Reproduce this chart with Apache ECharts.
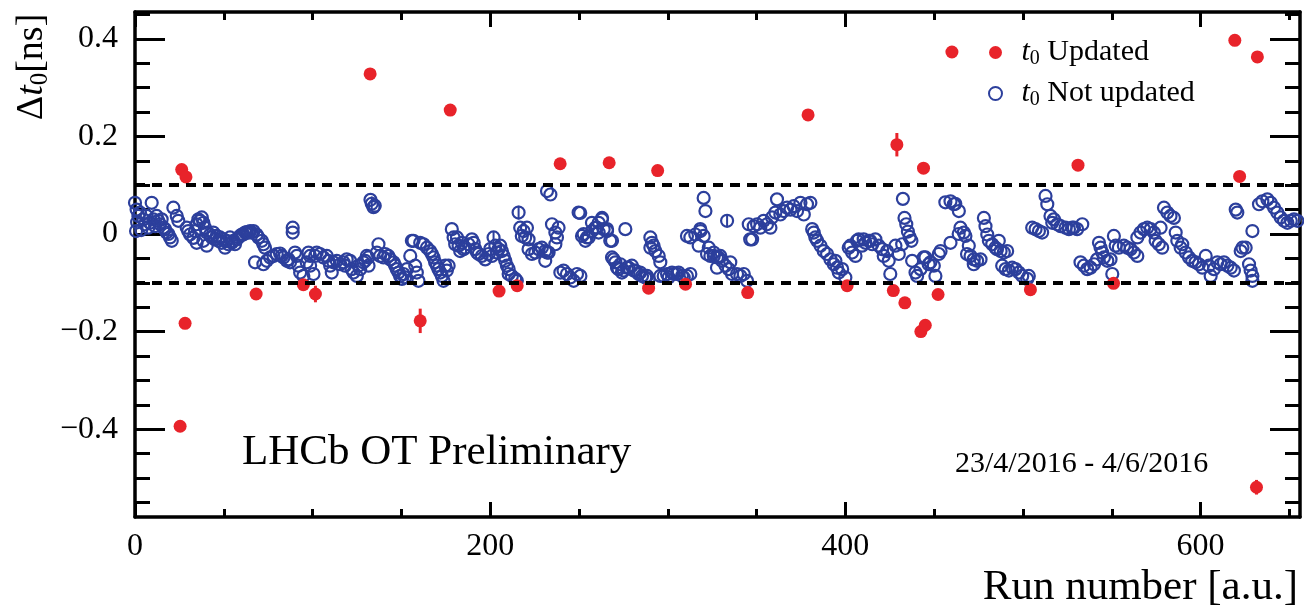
<!DOCTYPE html>
<html><head><meta charset="utf-8">
<script src="https://cdn.jsdelivr.net/npm/echarts@6/dist/echarts.min.js"></script>
<style>html,body{margin:0;padding:0;background:#fff}#c{width:1304px;height:609px}</style>
</head><body><div id="c"></div>
<script>
// ---------- data ----------
const yTicksMajor = [-0.4, -0.2, 0, 0.2, 0.4];
const yTicksMinor = [-0.55, -0.5, -0.45, -0.35, -0.3, -0.25, -0.15, -0.1, -0.05, 0.05, 0.1, 0.15, 0.25, 0.3, 0.35, 0.45];
const xTicksMajor = [0, 200, 400, 600];
const xTicksMinor = [50, 100, 150, 250, 300, 350, 450, 500, 550, 650];
const limitLines = [0.1, -0.1];

// [run, delta t0]
const updated = [
  [25.4,-0.394],[26.3,0.132],[28.2,-0.183],[28.7,0.117],[68.2,-0.123],[94.8,-0.104],[101.6,-0.123],
  [132.4,0.328],[160.6,-0.178],[177.5,0.254],[205,-0.117],[215.2,-0.106],[239.4,0.144],[267,0.146],
  [289.2,-0.111],[294.3,0.13],[310,-0.103],[345,-0.12],[379,0.244],[401,-0.106],[427,-0.116],
  [429,0.183],[433.5,-0.141],[442.5,-0.2],[444,0.135],[445,-0.187],[452.2,-0.124],[460,0.373],
  [504.2,-0.114],[531,0.141],[551,-0.101],[619.3,0.397],[622,0.118],[631.5,-0.519],[632,0.363]
];
// [run, delta t0, error]
const updatedErr = [[101.6,-0.123,0.017],[160.6,-0.178,0.025],[429,0.183,0.024],[631.5,-0.519,0.015]];

const notUpdated = [
  [0,0.064],[0.6,0.006],[0.9,0.05],[1.2,0.024],[1.9,0.037],[2.8,0.044],[3.5,0.008],[4.7,0.03],[5.6,0.02],[6.6,0.037],
  [7.5,0.013],[8.4,0.023],[9.4,0.064],[10.3,0.03],[11.3,0.016],[12.2,0.037],[13.1,0.027],[14.1,0.02],[15,0.03],
  [16,0.013],[16.9,0.01],[17.8,0.003],[18.8,0],[19.7,-0.007],[20.7,-0.014],[21.6,0.054],[23.5,0.037],[24.4,0.027],
  [29.1,0.013],[30,0.006],[31,-0.001],[32.9,-0.008],[33.8,0.006],[34.7,0.02],[34.7,-0.018],[35.7,0.03],[36.6,0.027],
  [37.6,0.034],[38.5,0.023],[38.5,-0.014],[39.4,0.013],[40.4,0.003],[40.4,-0.024],
  [42.3,-0.001],[43.2,-0.007],[44.1,0.003],[45.1,-0.011],[46,-0.004],[47,-0.014],[47.9,-0.007],[48.8,-0.018],
  [49.8,-0.011],[50.7,-0.028],[51.6,-0.014],[52.6,-0.021],[53.5,-0.007],[54.5,-0.018],[55.4,-0.014],[56.3,-0.021],
  [57.3,-0.011],[58.2,-0.007],[59.2,-0.004],[60.1,-0.001],[61,-0.001],[62,0.003],[62.9,0.004],[63.9,0.003],
  [64.8,0.006],[65.7,0.003],[66.7,0.006],
  [67.6,-0.058],[68.5,-0.001],[69.5,-0.007],[71.4,-0.014],[72.3,-0.021],[72.3,-0.062],[73.2,-0.028],[74.2,-0.055],
  [76.1,-0.048],[78,-0.045],[79.8,-0.041],[81.7,-0.04],[82.6,-0.045],[83.6,-0.048],[85.5,-0.055],[86.4,-0.052],
  [87.3,-0.058],[88.8,0.013],[88.8,0.003],
  [90.1,-0.038],[91.1,-0.045],[92,-0.065],[93,-0.079],[94.8,-0.086],[96.7,-0.058],[97.7,-0.038],[98.6,-0.045],
  [98.6,-0.065],[100.5,-0.082],[101.4,-0.045],[102.3,-0.038],
  [104.2,-0.041],[106.1,-0.048],[108,-0.045],[108.9,-0.055],[109.9,-0.065],[110.8,-0.079],[111.7,-0.058],
  [113.6,-0.055],[115.5,-0.062],[117.4,-0.058],[118.3,-0.065],[119.2,-0.052],[121.1,-0.055],[122,-0.072],
  [123,-0.079],[124.9,-0.086],[125.8,-0.065],[126.8,-0.072],[128.6,-0.058],[129.6,-0.055],[130.5,-0.045],
  [131.4,-0.048],[131.5,-0.065],
  [132.6,0.07],[133.3,0.062],[134.3,0.055],[135,0.058],
  [136.2,-0.038],[137.1,-0.021],[138,-0.045],[139.9,-0.048],[140.9,-0.041],[142.7,-0.045],[143.7,-0.052],
  [145.6,-0.058],[146.5,-0.065],[147.4,-0.072],[148.4,-0.079],[149.3,-0.086],[150.3,-0.092],[151.2,-0.082],
  [152.1,-0.089],[153.1,-0.072],[155,-0.045],[155.9,-0.014],[156.8,-0.014],[157.8,-0.065],[158.7,-0.079],[159.6,-0.096],
  [160.6,-0.018],[162.5,-0.021],[164.4,-0.028],[166.2,-0.035],[167.2,-0.041],[168.1,-0.048],[169,-0.058],
  [170,-0.065],[170.9,-0.072],[171.9,-0.079],[172.8,-0.086],[173.7,-0.096],[174.7,-0.065],[175.6,-0.075],[176.6,-0.065],
  [178.4,0.01],[179.4,-0.007],[180.3,-0.021],[181.3,-0.007],[182.2,-0.024],[183.1,-0.035],[184.1,-0.018],
  [185,-0.031],[186,-0.028],[187.8,-0.021],[189.7,-0.011],[190.7,-0.018],[191.6,-0.031],[192.6,-0.038],[193.5,-0.041],
  [195.3,-0.045],[197.2,-0.052],[199.1,-0.041],[200,-0.031],[201,-0.045],[201.9,-0.007],[202.9,-0.024],
  [203.8,-0.038],[204.7,-0.031],[205.7,-0.024],[206.6,-0.035],[207.6,-0.045],[208.5,-0.055],[209.4,-0.065],
  [210.4,-0.072],[210.4,-0.082],[212.2,-0.086],[214.1,-0.092],[215,-0.096],
  [216,0.044],[216.9,0.013],[217.8,-0.004],[218.8,0.006],[219.7,-0.007],[220.7,0.013],[221.6,-0.011],
  [221.6,-0.031],[223.5,-0.041],
  [225.4,-0.038],[227.3,-0.031],[229.1,-0.028],[231,-0.035],[231,-0.055],[232,-0.038],[232,0.088],[232.9,-0.038],
  [233.9,0.081],[234.8,0.02],[236.7,0.003],[236.7,-0.021],[237.6,-0.007],[238.5,0.013],
  [239.5,-0.079],[241.3,-0.075],[243.2,-0.082],[245.1,-0.089],[247,-0.096],[248.9,-0.082],[249.8,0.044],
  [250.7,0.043],[250.8,-0.086],
  [251.7,-0.004],[252.6,0],[253.6,-0.014],[254.5,-0.007],[255.5,-0.007],[257.3,0.006],[257.3,0.023],[259.2,0.013],
  [260.1,0.013],[261.1,0.023],[261.1,0.003],[262.9,0.03],[263,0.033],[263.9,0.01],[265.8,0.006],[265.8,0.01],
  [267.6,-0.014],[268.6,-0.014],
  [268.6,-0.048],[269.5,-0.052],[270.5,-0.058],[271.4,-0.069],[272.3,-0.072],[273.3,-0.062],[274.2,-0.079],
  [275.2,-0.075],[276.1,0.01],[277,-0.069],[278,-0.069],[279.8,-0.065],[280.8,-0.075],[281.7,-0.075],[283.6,-0.082],
  [284.5,-0.079],[285.5,-0.086],[287.3,-0.089],[288.3,-0.086],[289.2,-0.092],
  [290.2,-0.007],[290.2,-0.028],[291.1,-0.018],[292,-0.024],[293,-0.035],[294.9,-0.045],[295.8,-0.058],
  [295.8,-0.086],[297.7,-0.086],[299.6,-0.082],[300.5,-0.089],[302.4,-0.079],[303.3,-0.082],[305.2,-0.082],
  [306.1,-0.079],[308,-0.086],[309,-0.089],[310.8,-0.086],[312.7,-0.082],
  [310.8,-0.004],[312.7,-0.007],[315.5,-0.001],[317.4,-0.024],[318.3,0.01],[318.4,0.006],[320.2,-0.004],
  [320.2,0.074],[321.2,0.047],
  [322.1,-0.041],[323.1,-0.028],[324,-0.045],[325.9,-0.045],[325.9,-0.038],[327.7,-0.048],[327.7,-0.069],
  [328.7,-0.048],[329.6,-0.045],[330.5,-0.055],[332.5,-0.065],[333.4,0.027],[334.3,-0.072],[335.2,-0.058],
  [336.2,-0.082],[339,-0.082],[340.9,-0.086],[342.8,-0.082],[344.6,-0.096],
  [345.6,0.02],[346.4,-0.011],[347.5,-0.011],[348.4,0.016],[350.3,0.02],[352.1,0.013],[354,0.027],[355.9,0.02],
  [357.8,0.013],[358.7,0.034],[360.6,0.044],[361.5,0.071],[363.4,0.04],[365.3,0.047],[367.2,0.054],[369.1,0.05],
  [370.9,0.057],[372.8,0.047],[374.7,0.064],[376.6,0.04],[378.4,0.061],[380.3,0.064],
  [381.3,0.01],[382.2,0.003],[383.1,-0.007],[384.1,-0.014],[386,-0.024],[387.8,-0.035],[389.7,-0.041],
  [391.6,-0.052],[393.5,-0.062],[394.4,-0.055],[395.3,-0.069],[396.3,-0.079],[398.2,-0.072],[400,-0.089],
  [401.9,-0.028],[402.8,-0.024],[403.8,-0.038],[405.7,-0.045],[406.5,-0.014],[407.5,-0.011],[409.4,-0.024],
  [410.3,-0.011],[411.3,-0.018],[413.2,-0.014],[414,-0.014],[415.1,-0.021],[416.9,-0.011],[418.8,-0.024],
  [420.7,-0.031],[421.6,-0.045],[423.5,-0.035],[424.4,-0.055],[425.3,-0.082],[428.2,-0.024],[430.1,-0.041],[432,-0.021],
  [432.4,0.072],[433.3,0.033],[434.3,0.02],[435.2,0.005],[436.2,-0.006],[437.2,-0.014],
  [437.6,-0.055],[439.5,-0.079],[440.4,-0.086],[442.3,-0.072],[444.1,-0.048],[445.1,-0.048],[446.9,-0.062],
  [447.9,-0.058],[449.8,-0.065],[450.7,-0.086],[452.6,-0.041],[453.6,-0.035],[456.3,0.065],[459.2,-0.018],
  [459.2,0.067],[461.1,0.061],[461.9,0.062],[463.9,0.047],[463.8,0],[464.8,0.013],[466.7,0.003],[467.6,-0.004],
  [468.5,-0.041],[469.5,-0.024],[470.5,-0.045],[472.3,-0.052],[472.3,-0.062],[474.2,-0.055],[476.1,-0.052],
  [478,0.033],[478.9,0.016],[479.9,-0.001],[480.8,-0.014],[482.7,-0.021],[484.5,-0.028],[485.4,-0.031],
  [486.4,-0.014],[487.4,-0.035],[489.2,-0.038],[491.1,-0.035],
  [488.3,-0.065],[490.2,-0.072],[492.1,-0.075],[493.9,-0.069],[495.8,-0.072],[497.7,-0.079],[499.6,-0.086],
  [502.4,-0.092],[503.3,-0.086],
  [505.2,0.013],[507.1,0.01],[509,0.006],[510.8,0.003],[512.7,0.078],[513.7,0.061],[515.5,0.037],[516.5,0.023],
  [517.4,0.03],[519.3,0.02],[521.2,0.016],[524,0.013],[525.9,0.01],[527.7,0.013],[528.7,0.013],[530.5,0.01],[533.4,0.02],
  [532.4,-0.058],[534.3,-0.065],[536.2,-0.072],[538.1,-0.069],[540,-0.062],[541.8,-0.052],[542.8,-0.018],
  [543.7,-0.028],[544.6,-0.038],[545.6,-0.048],[547.5,-0.055],[549.3,-0.052],[550.3,-0.082],
  [551.2,-0.004],[552.2,-0.024],[554,-0.028],[556.8,-0.024],[558.7,-0.028],[560.6,-0.031],[562.5,-0.038],
  [564.4,-0.045],[564.4,-0.007],[566.2,0.003],[568.1,0.01],[570,0.013],[571.9,0.01],[573.7,0.003],[574.7,-0.014],
  [576.5,-0.021],[577.5,0.013],[578.4,-0.028],
  [579.4,0.054],[581.3,0.044],[583.1,0.037],[585,0.033],
  [586,0.003],[586.9,-0.014],[588.8,-0.028],[589.7,-0.021],[591.6,-0.038],[593.5,-0.048],[595.3,-0.055],
  [597.2,-0.058],[599.1,-0.062],[601,-0.069],[602.9,-0.045],[604.7,-0.065],[605.7,-0.086],[607.5,-0.072],
  [609.4,-0.058],[611.3,-0.062],[613.2,-0.058],[615.1,-0.065],[617,-0.069],[618.8,-0.075],
  [619.8,0.05],[620.7,0.044],[622.6,-0.035],[623.6,-0.028],[625.4,-0.028],[627.3,-0.062],[628.2,-0.075],
  [629.2,-0.086],[629.2,-0.096],[629.2,0.006],[632.9,0.061],[634.8,0.067],[637.6,0.071],[639.5,0.064],
  [641.4,0.054],[643.2,0.044],[645.1,0.034],[647,0.027],[648.9,0.023],[650.8,0.027],[652.6,0.03],[654.5,0.027]
];
// [run, delta t0, error]
const notUpdatedErr = [[133.3,0.062,0.015],[201.9,-0.007,0.012],[216,0.044,0.014],[333.4,0.027,0.012]];

// ---------- styling ----------
const SERIF = "'Liberation Serif', 'Times New Roman', serif";
const RED = '#e8232a';
const BLUE = '#2c3f9c';
const BLACK = '#000';
const Y_MIN = -0.58, Y_MAX = 0.455, X_MIN = 0, X_MAX = 656;

function fmtY(v) {
  if (Math.abs(v) < 1e-9) return '0';
  const s = Math.abs(v).toFixed(1);
  return v < 0 ? '\u2212' + s : s;
}

function yAxisDef(position, values, len, showLine, showLabel) {
  return {
    type: 'value', position: position, min: Y_MIN, max: Y_MAX,
    axisLine: { show: showLine, onZero: false, lineStyle: { color: BLACK, width: 3.5 } },
    axisTick: { show: true, inside: true, length: len, customValues: values, lineStyle: { color: BLACK, width: 3 } },
    axisLabel: showLabel ? {
      show: true, customValues: values, formatter: fmtY, margin: 17,
      fontFamily: SERIF, fontSize: 32, color: BLACK, padding: [0, 0, 20, 0]
    } : { show: false },
    splitLine: { show: false }
  };
}
function xAxisDef(position, values, len, showLine, showLabel, extra) {
  return Object.assign({
    type: 'value', position: position, min: X_MIN, max: X_MAX,
    axisLine: { show: showLine, onZero: false, lineStyle: { color: BLACK, width: 3.5 } },
    axisTick: { show: true, inside: true, length: len, customValues: values, lineStyle: { color: BLACK, width: 3 } },
    axisLabel: showLabel ? {
      show: true, customValues: values, margin: 14,
      fontFamily: SERIF, fontSize: 32, color: BLACK
    } : { show: false },
    splitLine: { show: false }
  }, extra || {});
}

function errRender(color, width) {
  return function (params, api) {
    const x = api.value(0), y = api.value(1), e = api.value(2);
    const p1 = api.coord([x, y - e]), p2 = api.coord([x, y + e]);
    return { type: 'line', shape: { x1: p1[0], y1: p1[1], x2: p2[0], y2: p2[1] },
             style: { stroke: color, lineWidth: width } };
  };
}

const richLegend = {
  t: { fontFamily: SERIF, fontSize: 30, fontStyle: 'italic', color: BLACK, lineHeight: 30, padding: [0, 0, 0, 6] },
  s: { fontFamily: SERIF, fontSize: 20, color: BLACK, lineHeight: 20, padding: [13, 0, 0, 0] },
  n: { fontFamily: SERIF, fontSize: 30, color: BLACK, lineHeight: 30 }
};

const chart = echarts.init(document.getElementById('c'), null, { renderer: 'canvas' });
chart.setOption({
  animation: false,
  backgroundColor: '#fff',
  grid: { left: 135, right: 4, top: 12, bottom: 92, containLabel: false, outerBoundsMode: 'none' },
  xAxis: [
    xAxisDef('bottom', xTicksMajor, 15, true, true, {
      name: 'Run number [a.u.]', nameLocation: 'end', nameGap: 0,
      nameTextStyle: { fontFamily: SERIF, fontSize: 43, color: BLACK, align: 'right', verticalAlign: 'top', padding: [49, 2, 0, 0] }
    }),
    xAxisDef('bottom', xTicksMinor, 8, false, false),
    xAxisDef('top', xTicksMajor, 15, true, false),
    xAxisDef('top', xTicksMinor, 8, false, false)
  ],
  yAxis: [
    yAxisDef('left', yTicksMajor, 30, true, true),
    yAxisDef('left', yTicksMinor, 15, false, false),
    yAxisDef('right', yTicksMajor, 30, true, false),
    yAxisDef('right', yTicksMinor, 15, false, false)
  ],
  legend: {
    orient: 'vertical', left: 983, top: 31, itemWidth: 30, itemHeight: 13, itemGap: 8,
    data: [
      { name: 't0 Updated', icon: 'circle', itemStyle: { color: RED } },
      { name: 't0 Not updated', icon: 'circle', itemStyle: { color: 'rgba(0,0,0,0)', borderColor: BLUE, borderWidth: 2 } }
    ],
    formatter: function (n) { return n === 't0 Updated' ? '{t|t}{s|0}{n| Updated}' : '{t|t}{s|0}{n| Not updated}'; },
    textStyle: { rich: richLegend }
  },
  graphic: [
    { type: 'text', x: 32, y: 67, rotation: Math.PI / 2, silent: true,
      style: { text: '{d|\u0394}{t|t}{s|0}{n|[ns]}', align: 'center', verticalAlign: 'middle',
        rich: {
          d: { fontFamily: SERIF, fontSize: 38, color: BLACK, lineHeight: 38 },
          t: { fontFamily: SERIF, fontSize: 38, fontStyle: 'italic', color: BLACK, lineHeight: 38 },
          s: { fontFamily: SERIF, fontSize: 25, color: BLACK, lineHeight: 25, padding: [16, 0, 0, 0] },
          n: { fontFamily: SERIF, fontSize: 38, color: BLACK, lineHeight: 38 }
        } } },
    { type: 'text', x: 242, y: 453, silent: true,
      style: { text: 'LHCb OT Preliminary', fontFamily: SERIF, fontSize: 43, fill: BLACK, verticalAlign: 'middle' } },
    { type: 'text', x: 955, y: 464, silent: true,
      style: { text: '23/4/2016 - 4/6/2016', fontFamily: SERIF, fontSize: 30, fill: BLACK, verticalAlign: 'middle' } }
  ],
  series: [
    {
      type: 'line', data: [], z: 1, silent: true,
      markLine: {
        silent: true, symbol: ['none', 'none'], label: { show: false },
        lineStyle: { color: BLACK, width: 4, type: [10, 7] },
        data: limitLines.map(function (v) { return { yAxis: v }; })
      }
    },
    {
      name: 't0 Not updated', type: 'scatter', symbol: 'circle', symbolSize: 12, z: 2,
      itemStyle: { color: 'rgba(0,0,0,0)', borderColor: BLUE, borderWidth: 2.2, opacity: 1 },
      data: notUpdated
    },
    {
      type: 'custom', z: 2, silent: true, renderItem: errRender(BLUE, 2),
      encode: { x: 0, y: 1 }, data: notUpdatedErr
    },
    {
      type: 'custom', z: 3, silent: true, renderItem: errRender(RED, 3),
      encode: { x: 0, y: 1 }, data: updatedErr
    },
    {
      name: 't0 Updated', type: 'scatter', symbol: 'circle', symbolSize: 13, z: 4,
      itemStyle: { color: RED, opacity: 1 },
      data: updated
    }
  ]
});
</script>
</body></html>
